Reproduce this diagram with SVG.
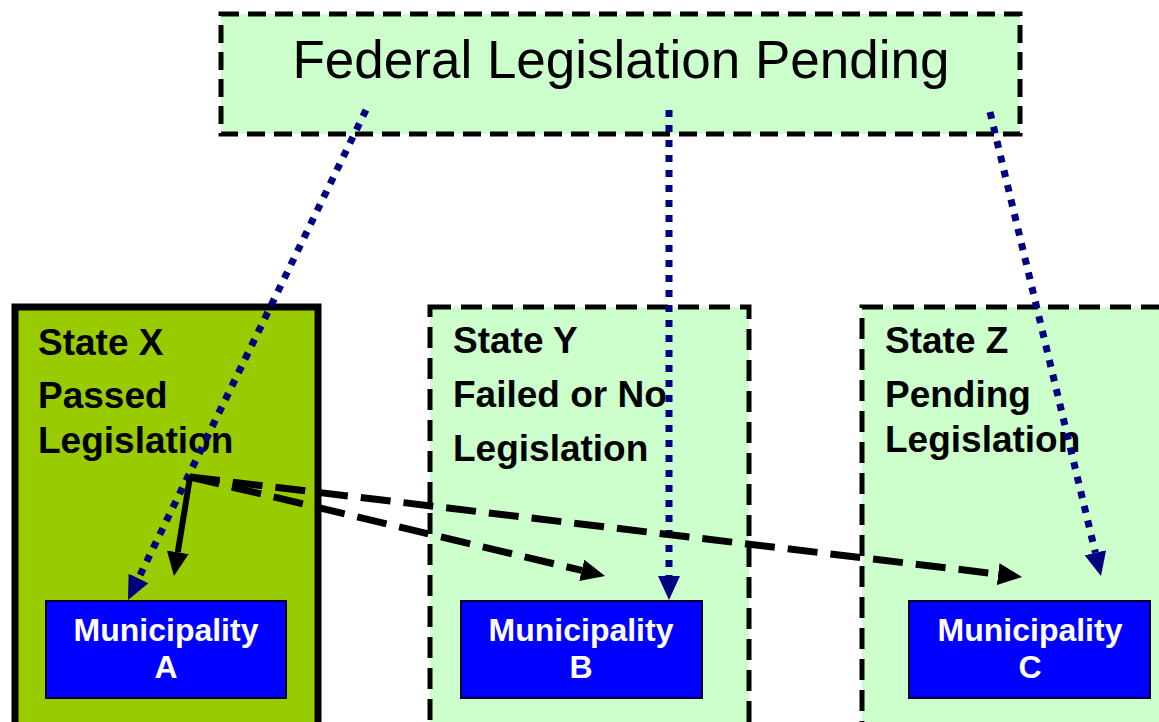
<svg xmlns="http://www.w3.org/2000/svg" width="1159" height="722" viewBox="0 0 1159 722">
  <style>
    .fed { fill: #CCFFCC; stroke: #000; stroke-width: 5; stroke-dasharray: 18 9; }
    .state-dashed { fill: #CCFFCC; stroke: #000; stroke-width: 5; stroke-dasharray: 21 10; }
    .state-solid { fill: #99CC00; stroke: #000; stroke-width: 7; }
    .muni { fill: #0000FF; stroke: #000033; stroke-width: 2; }
    .title { font-family: "Liberation Sans", Arial, sans-serif; font-size: 53px; fill: #000; }
    .slabel { font-family: "Liberation Sans", Arial, sans-serif; font-size: 37px; font-weight: bold; fill: #000; }
    .mlabel { font-family: "Liberation Sans", Arial, sans-serif; font-size: 32px; font-weight: bold; fill: #fff; text-anchor: middle; }
    .fedlink { fill: none; stroke: #000080; stroke-width: 7; stroke-dasharray: 7 8; marker-end: url(#navyHead); }
    .solid { fill: none; stroke: #000; stroke-width: 6; marker-end: url(#blackHead); }
    .dashed { fill: none; stroke: #000; stroke-width: 7; stroke-dasharray: 30 13; marker-end: url(#blackHead); }
  </style>
  <defs>
    <marker id="navyHead" markerUnits="userSpaceOnUse" viewBox="0 0 24 22" refX="0" refY="11" markerWidth="24" markerHeight="22" orient="auto">
      <path d="M0,0 L24,11 L0,22 Z" fill="#000080"/>
    </marker>
    <marker id="blackHead" markerUnits="userSpaceOnUse" viewBox="0 0 24 22" refX="0" refY="11" markerWidth="24" markerHeight="22" orient="auto">
      <path d="M0,0 L24,11 L0,22 Z" fill="#000"/>
    </marker>
  </defs>

  <rect width="1159" height="722" fill="#fff"/>

  <g id="federal">
    <rect class="fed" x="221" y="14" width="799" height="120"/>
    <text class="title" x="621" y="78" text-anchor="middle">Federal Legislation Pending</text>
  </g>

  <g id="state-x">
    <rect class="state-solid" x="15" y="307" width="303" height="430"/>
    <text class="slabel" x="38" y="355">State X</text>
    <text class="slabel" x="38" y="408">Passed</text>
    <text class="slabel" x="38" y="453">Legislation</text>
  </g>

  <g id="state-y">
    <rect class="state-dashed" x="430" y="307" width="319" height="430"/>
    <text class="slabel" x="453" y="353">State Y</text>
    <text class="slabel" x="453" y="407">Failed or No</text>
    <text class="slabel" x="453" y="461">Legislation</text>
  </g>

  <g id="state-z">
    <rect class="state-dashed" x="862" y="307" width="330" height="430"/>
    <text class="slabel" x="885" y="353">State Z</text>
    <text class="slabel" x="885" y="407">Pending</text>
    <text class="slabel" x="885" y="452">Legislation</text>
  </g>

  <g id="municipality-a">
    <rect class="muni" x="46" y="601" width="240" height="97"/>
    <text class="mlabel" x="166" y="641">Municipality</text>
    <text class="mlabel" x="166" y="678">A</text>
  </g>

  <g id="municipality-b">
    <rect class="muni" x="461" y="601" width="241" height="97"/>
    <text class="mlabel" x="581" y="641">Municipality</text>
    <text class="mlabel" x="581" y="678">B</text>
  </g>

  <g id="municipality-c">
    <rect class="muni" x="909" y="601" width="241" height="97"/>
    <text class="mlabel" x="1030" y="641">Municipality</text>
    <text class="mlabel" x="1030" y="678">C</text>
  </g>

  <g id="connectors">
    <!-- federal influence on each municipality -->
    <line class="fedlink" x1="366" y1="110" x2="138.5" y2="578.4"/>
    <line class="fedlink" x1="669" y1="110" x2="669" y2="576"/>
    <line class="fedlink" x1="990" y1="112" x2="1095.4" y2="552.7"/>
    <!-- spread from State X outward -->
    <line class="dashed" x1="190" y1="477" x2="581.7" y2="570.4"/>
    <line class="dashed" x1="190" y1="477" x2="998.2" y2="574.1"/>
    <line class="solid" x1="190" y1="477" x2="177.8" y2="552.3"/>
  </g>
</svg>
